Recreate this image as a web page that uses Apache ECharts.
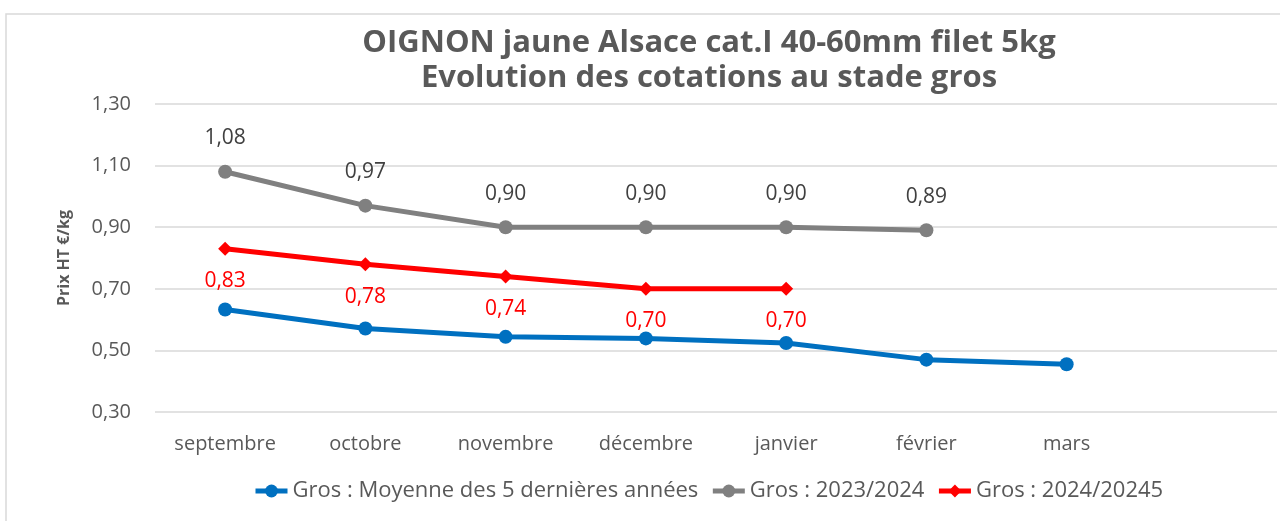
<!DOCTYPE html>
<html>
<head>
<meta charset="utf-8">
<script src="https://cdn.jsdelivr.net/npm/echarts@6/dist/echarts.min.js"></script>
<style>
  html, body { margin: 0; padding: 0; background: #fff; }
  #chart { width: 1280px; height: 521px; }
</style>
</head>
<body>
<div id="chart"></div>
<script>
// catégories (la dernière est vide, comme dans l'original)
var mois = ['septembre', 'octobre', 'novembre', 'décembre', 'janvier', 'février', 'mars', ''];
var moyenne5ans = [0.633, 0.571, 0.544, 0.539, 0.524, 0.470, 0.455];
var gros2324 = [1.08, 0.97, 0.90, 0.90, 0.90, 0.89];
var gros2425 = [0.83, 0.78, 0.74, 0.70, 0.70];
var yTicks = [0.30, 0.50, 0.70, 0.90, 1.10, 1.30];

var fontTxt = '"Open Sans", "Liberation Sans", sans-serif';

function virgule(v) {
  return Number(v).toFixed(2).replace('.', ',');
}

var chart = echarts.init(document.getElementById('chart'));

var option = {
  animation: false,
  title: {
    text: 'OIGNON jaune Alsace cat.I 40-60mm filet 5kg\nEvolution des cotations au stade gros',
    left: 704,
    textAlign: 'center',
    top: 21,
    textStyle: {
      fontFamily: fontTxt,
      fontWeight: 'bold',
      fontSize: 31,
      lineHeight: 35,
      color: '#595959'
    }
  },
  graphic: [{
    type: 'rect',
    shape: { x: 6, y: 14, width: 1290, height: 520 },
    style: { fill: 'none', stroke: '#d9d9d9', lineWidth: 1.5 },
    silent: true
  }],
  legend: {
    bottom: 14,
    left: 248,
    itemWidth: 32,
    itemHeight: 16,
    itemGap: 12,
    lineStyle: { width: 5 },
    textStyle: {
      fontFamily: fontTxt,
      fontSize: 22,
      color: '#595959'
    },
    data: ['Gros : Moyenne des 5 dernières années', 'Gros : 2023/2024', 'Gros : 2024/20245']
  },
  grid: {
    left: 155,
    right: 3,
    top: 104,
    bottom: 109
  },
  xAxis: {
    type: 'category',
    data: mois,
    boundaryGap: true,
    axisLine: { show: false },
    axisTick: { show: false },
    axisLabel: {
      margin: 22,
      fontFamily: fontTxt,
      fontSize: 20,
      color: '#595959'
    }
  },
  yAxis: {
    type: 'value',
    min: yTicks[0],
    max: yTicks[yTicks.length - 1],
    interval: 0.2,
    name: 'Prix HT €/kg',
    nameLocation: 'middle',
    nameGap: 83,
    nameTextStyle: {
      fontFamily: fontTxt,
      fontWeight: 'bold',
      fontSize: 16,
      color: '#595959'
    },
    axisLine: { show: false },
    axisTick: { show: false },
    splitLine: { lineStyle: { color: '#d9d9d9', width: 1.5 } },
    axisLabel: {
      margin: 24,
      fontFamily: fontTxt,
      fontSize: 20,
      color: '#595959',
      formatter: virgule
    }
  },
  series: [{
    name: 'Gros : Moyenne des 5 dernières années',
    type: 'line',
    data: moyenne5ans,
    symbol: 'circle',
    symbolSize: 14,
    color: '#0070C0',
    lineStyle: { width: 5, color: '#0070C0' },
    label: { show: false },
    z: 2
  }, {
    name: 'Gros : 2023/2024',
    type: 'line',
    data: gros2324,
    symbol: 'circle',
    symbolSize: 14,
    color: '#808080',
    lineStyle: { width: 5, color: '#808080' },
    label: {
      show: true,
      position: 'top',
      distance: 16,
      formatter: function (p) { return virgule(p.value); },
      fontFamily: fontTxt,
      fontSize: 21,
      color: '#404040'
    },
    z: 3
  }, {
    name: 'Gros : 2024/20245',
    type: 'line',
    data: gros2425,
    symbol: 'diamond',
    symbolSize: 14,
    color: '#FF0000',
    lineStyle: { width: 5, color: '#FF0000' },
    label: {
      show: true,
      position: 'bottom',
      distance: 15,
      formatter: function (p) { return virgule(p.value); },
      fontFamily: fontTxt,
      fontSize: 21,
      color: '#FF0000'
    },
    z: 4
  }]
};

chart.setOption(option);
</script>
</body>
</html>
